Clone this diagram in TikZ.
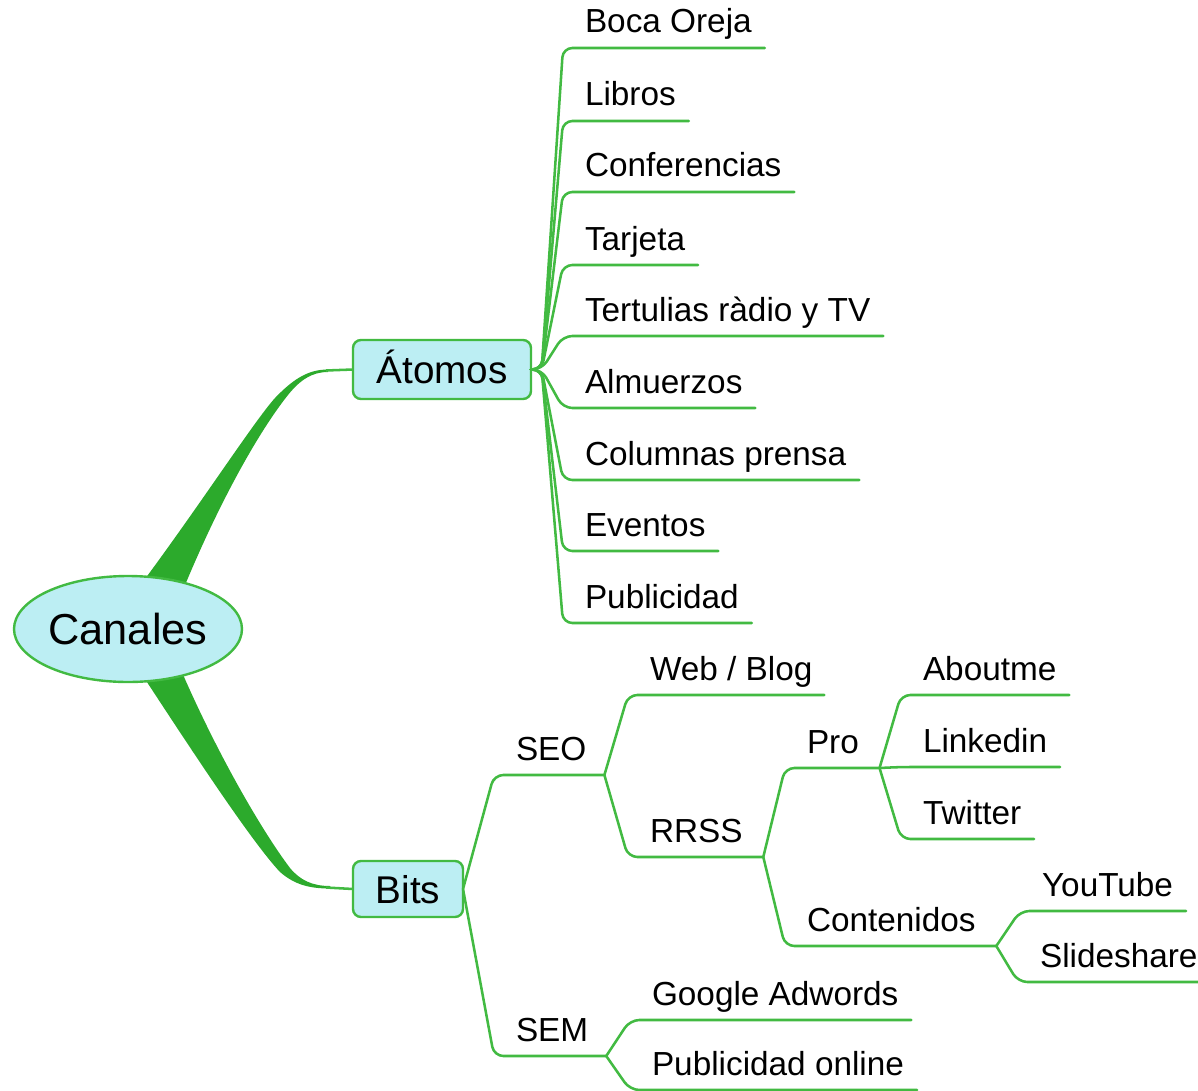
\documentclass[tikz,border=0pt]{standalone}
\usepackage{fontspec}
\setmainfont{Liberation Sans}
\usetikzlibrary{shapes.geometric}
\definecolor{lineg}{RGB}{66,186,66}
\definecolor{wedgeg}{RGB}{44,170,44}
\definecolor{boxc}{RGB}{188,238,243}
\pgfdeclarelayer{bg}
\pgfsetlayers{bg,main}
\newcommand{\leafline}[3]{\draw[br] (#1) -- ([xshift=-16.5pt,yshift=-11.25pt]#2.base west) -- ([xshift=#3,yshift=-11.25pt]#2.base east);}
\newcommand{\stubline}[3]{\draw[br] (#1) -- ([xshift=8pt]#1) -- ([xshift=-16.5pt,yshift=-11.25pt]#2.base west) -- ([xshift=#3,yshift=-11.25pt]#2.base east);}
\begin{document}
\begin{tikzpicture}[x=0.75pt,y=-0.75pt,
  every node/.style={inner sep=0pt, outer sep=0pt},
  lf/.style={font=\fontsize{25}{30}\selectfont, anchor=base west},
  topic/.style={draw=lineg, line width=1.8pt, fill=boxc, rounded corners=6pt,
     font=\fontsize{29}{34}\selectfont, text height=21pt, text depth=0pt},
  br/.style={draw=lineg, line width=1.9pt, rounded corners=7pt, line cap=round},
  wedge/.style={fill=wedgeg},
]
\useasboundingbox (0,0) rectangle (1198,1091);

% central and main topics
\node[ellipse, draw=lineg, line width=1.8pt, fill=boxc, minimum width=171pt, minimum height=79.5pt,
      font=\fontsize{32.5}{38}\selectfont, text height=23pt, text depth=0pt] (can) at (128,629) {Canales};
\node[topic, minimum width=133.5pt, minimum height=44.25pt] (atomos) at (442,369.5) {Átomos};
\node[topic, minimum width=82.5pt, minimum height=42pt] (bits) at (408,889) {Bits};

% thick branches
\begin{pgfonlayer}{bg}
\fill[wedge] (142,583) .. controls (200,505) and (255,420) .. (275,398)
   .. controls (295,377) and (310,369.5) .. (328,369.5)
   -- (328,372) .. controls (312,372) and (300,380) .. (288,395)
   .. controls (260,430) and (220,500) .. (183,590) -- cycle;
\fill[wedge] (143,676) .. controls (185,740) and (250,840) .. (280,872)
   .. controls (295,885) and (310,888.5) .. (330,888.5)
   -- (330,886) .. controls (312,886) and (300,880) .. (290,868)
   .. controls (265,835) and (220,760) .. (181,670) -- cycle;
\end{pgfonlayer}
\draw[draw=lineg, line width=1.9pt] (326,370.5) -- (atomos.west);
\draw[draw=lineg, line width=1.9pt] (326,887.5) -- (bits.west);

% Atomos leaves
\node[lf] (a1) at (585,33) {Boca Oreja};
\node[lf] (a2) at (585,106) {Libros};
\node[lf] (a3) at (585,177) {Conferencias};
\node[lf] (a4) at (585,250) {Tarjeta};
\node[lf] (a5) at (585,321) {Tertulias ràdio y TV};
\node[lf] (a6) at (585,393) {Almuerzos};
\node[lf] (a7) at (585,465) {Columnas prensa};
\node[lf] (a8) at (585,536) {Eventos};
\node[lf] (a9) at (585,608) {Publicidad};
\foreach \n in {a1,a2,a3,a4,a5,a6,a7,a8,a9}{\stubline{atomos.east}{\n}{9.75pt}}

% Bits subtree
\node[lf] (seo) at (516,760) {SEO};
\node[lf] (sem) at (516,1041) {SEM};
\leafline{bits.east}{seo}{13.5pt}
\leafline{bits.east}{sem}{13.5pt}
\coordinate (seoE) at ([xshift=13.5pt,yshift=-11.25pt]seo.base east);
\coordinate (semE) at ([xshift=13.5pt,yshift=-11.25pt]sem.base east);

\node[lf] (web) at (650,680) {Web / Blog};
\node[lf] (rrss) at (650,842) {RRSS};
\leafline{seoE}{web}{9pt}
\leafline{seoE}{rrss}{15.5pt}
\coordinate (rrssE) at ([xshift=15.5pt,yshift=-11.25pt]rrss.base east);

\node[lf] (pro) at (807,753) {Pro};
\node[lf] (cont) at (807,931) {Contenidos};
\leafline{rrssE}{pro}{15.5pt}
\leafline{rrssE}{cont}{15.5pt}
\coordinate (proE) at ([xshift=15.5pt,yshift=-11.25pt]pro.base east);
\coordinate (contE) at ([xshift=15.5pt,yshift=-11.25pt]cont.base east);

\node[lf] (about) at (923,680) {Aboutme};
\node[lf] (link) at (923,752) {Linkedin};
\node[lf] (twit) at (923,824) {Twitter};
\leafline{proE}{about}{9.75pt}
\leafline{proE}{link}{9.75pt}
\leafline{proE}{twit}{9.75pt}

\node[lf] (yt) at (1042,896) {YouTube};
\node[lf] (slide) at (1040,967) {Slideshare};
\leafline{contE}{yt}{9.75pt}
\leafline{contE}{slide}{12pt}

\node[lf] (goog) at (652,1005) {Google Adwords};
\node[lf] (pubo) at (652,1075) {Publicidad online};
\leafline{semE}{goog}{9.75pt}
\leafline{semE}{pubo}{9.75pt}
\end{tikzpicture}
\end{document}
